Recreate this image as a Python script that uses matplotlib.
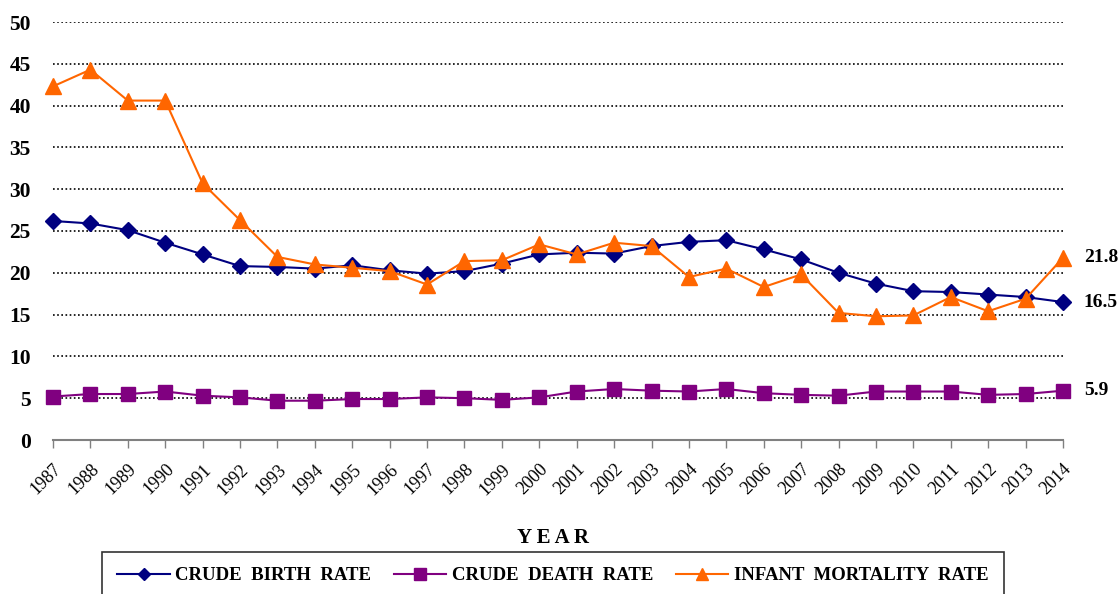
import matplotlib
matplotlib.use("Agg")
import matplotlib.pyplot as plt

years = list(range(1987, 2015))
crude_birth = [26.2, 25.9, 25.1, 23.6, 22.2, 20.8, 20.7, 20.5, 20.9, 20.3,
               19.9, 20.2, 21.1, 22.2, 22.4, 22.3, 23.2, 23.7, 23.9, 22.8,
               21.6, 20.0, 18.7, 17.8, 17.7, 17.4, 17.1, 16.5]
crude_death = [5.2, 5.5, 5.5, 5.8, 5.3, 5.1, 4.7, 4.7, 4.9, 4.9,
               5.1, 5.0, 4.8, 5.1, 5.8, 6.1, 5.9, 5.8, 6.1, 5.6,
               5.4, 5.3, 5.8, 5.8, 5.8, 5.4, 5.5, 5.9]
infant_mort = [42.3, 44.3, 40.6, 40.6, 30.7, 26.3, 21.9, 21.0, 20.6, 20.2,
               18.6, 21.4, 21.5, 23.4, 22.2, 23.6, 23.2, 19.5, 20.5, 18.3,
               19.8, 15.2, 14.8, 14.9, 17.1, 15.4, 16.9, 21.8]
yticks = list(range(0, 51, 5))
series_names = ["CRUDE  BIRTH  RATE", "CRUDE  DEATH  RATE", "INFANT  MORTALITY  RATE"]
end_labels = ["16.5", "5.9", "21.8"]

serif = ["Liberation Serif", "DejaVu Serif"]

fig = plt.figure(figsize=(11.2, 5.94), dpi=100)
ax = fig.add_axes([53 / 1120, 1 - 440 / 594, (1063 - 53) / 1120, (440 - 22) / 594])

l1, = ax.plot(years, crude_birth, color="#000080", marker="D", markersize=8, lw=1.5, clip_on=False)
l2, = ax.plot(years, crude_death, color="#800080", marker="s", markersize=10, lw=1.5, clip_on=False)
l3, = ax.plot(years, infant_mort, color="#FF6600", marker="^", markersize=11, lw=1.5, clip_on=False)

ax.set_xlim(1987, 2014)
ax.set_ylim(0, 50)
ax.set_yticks(yticks)
ax.set_yticklabels([str(v) for v in yticks], fontfamily=serif, fontweight="bold", fontsize=15.5)
ax.set_xticks(years)
ax.set_xticklabels([str(y) for y in years], rotation=45, ha="right", va="top",
                   rotation_mode="anchor", fontfamily=serif, fontsize=13)
ax.tick_params(axis="y", length=0, pad=16)
ax.tick_params(axis="x", length=6, color="#808080", width=1, pad=9)

for v in yticks[1:]:
    ax.axhline(v, color="black", lw=1.2, ls=(0, (1, 1.5)), zorder=0)

for s in ["top", "right", "left"]:
    ax.spines[s].set_visible(False)
ax.spines["bottom"].set_color("#808080")
ax.spines["bottom"].set_linewidth(1.5)

for vals, lab in zip([crude_birth, crude_death, infant_mort], end_labels):
    ax.annotate(lab, xy=(years[-1], vals[-1]), xytext=(15, 0), textcoords="offset points",
                ha="left", va="center", fontfamily=serif, fontweight="bold", fontsize=14,
                annotation_clip=False)

fig.text(553 / 1120, 1 - 538 / 594, "Y E A R", ha="center", va="center",
         fontfamily=serif, fontweight="bold", fontsize=15)

leg = fig.legend([l1, l2, l3], series_names, loc="upper center",
                 bbox_to_anchor=(553 / 1120, 1 - 552 / 594), ncol=3, frameon=True,
                 prop={"family": serif, "weight": "bold", "size": 13.5},
                 handlelength=2.8, columnspacing=1.2, handletextpad=0.3,
                 borderpad=0.8, borderaxespad=0, fancybox=False, markerscale=0.8)
leg.get_frame().set_edgecolor("black")
leg.get_frame().set_linewidth(1.2)

fig.savefig("out.png", dpi=100)
